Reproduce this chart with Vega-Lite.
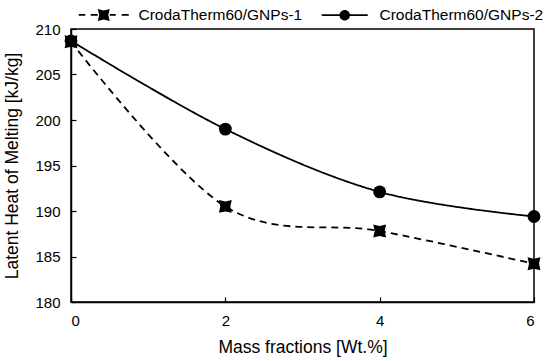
{
  "$schema": "https://vega.github.io/schema/vega-lite/v6.json",
  "width": 463,
  "height": 273,
  "autosize": {"type": "none"},
  "padding": {"left": 71, "top": 29, "right": 16, "bottom": 59},
  "background": "white",
  "config": {
    "font": "Liberation Sans",
    "view": {"stroke": "black", "strokeWidth": 1.5},
    "axis": {
      "domainColor": "black", "domainWidth": 1.5,
      "tickColor": "black", "tickWidth": 1.2, "tickSize": -5,
      "grid": false,
      "labelFont": "Liberation Sans", "labelFontSize": 15, "labelColor": "black",
      "titleFont": "Liberation Sans", "titleFontSize": 17.5, "titleFontWeight": "normal", "titleColor": "black"
    }
  },
  "data": {
    "values": [
      {"series": "CrodaTherm60/GNPs-1", "x": 0, "y": 208.6},
      {"series": "CrodaTherm60/GNPs-1", "x": 2, "y": 190.5},
      {"series": "CrodaTherm60/GNPs-1", "x": 4, "y": 187.8},
      {"series": "CrodaTherm60/GNPs-1", "x": 6, "y": 184.2},
      {"series": "CrodaTherm60/GNPs-2", "x": 0, "y": 208.7},
      {"series": "CrodaTherm60/GNPs-2", "x": 2, "y": 199.0},
      {"series": "CrodaTherm60/GNPs-2", "x": 4, "y": 192.1},
      {"series": "CrodaTherm60/GNPs-2", "x": 6, "y": 189.4}
    ]
  },
  "encoding": {
    "x": {
      "field": "x", "type": "quantitative",
      "scale": {"domain": [0, 6], "nice": false, "zero": false},
      "axis": {"values": [0, 2, 4, 6], "title": "Mass fractions [Wt.%]", "labelPadding": 16, "titlePadding": 10}
    },
    "y": {
      "field": "y", "type": "quantitative",
      "scale": {"domain": [180, 210], "nice": false, "zero": false},
      "axis": {"values": [180, 185, 190, 195, 200, 205, 210], "title": "Latent Heat of Melting [kJ/kg]", "labelPadding": 16, "titlePadding": 13}
    }
  },
  "layer": [
    {
      "mark": {"type": "line", "interpolate": "cardinal", "color": "black", "strokeWidth": 1.8},
      "encoding": {
        "strokeDash": {
          "field": "series", "type": "nominal",
          "scale": {"range": [[7, 5], [1, 0]]},
          "legend": null
        }
      }
    },
    {
      "transform": [{"filter": "datum.series === 'CrodaTherm60/GNPs-1'"}],
      "mark": {"type": "point", "filled": true, "color": "black", "opacity": 1, "size": 165,
               "shape": "M-1,-1L0,-0.78L1,-1L0.78,0L1,1L0,0.78L-1,1L-0.78,0Z"}
    },
    {
      "transform": [{"filter": "datum.series === 'CrodaTherm60/GNPs-2'"}],
      "mark": {"type": "point", "filled": true, "color": "black", "opacity": 1, "size": 165, "shape": "circle"}
    },
    {
      "mark": {"type": "point", "filled": true, "color": "black", "opacity": 0, "size": 100},
      "encoding": {
        "shape": {
          "field": "series", "type": "nominal",
          "scale": {
            "domain": ["CrodaTherm60/GNPs-1", "CrodaTherm60/GNPs-2"],
            "range": [
              "M-5,-0.17H-3.7V0.17H-5ZM-2.6,-0.17H-1.2V0.17H-2.6ZM1.2,-0.17H2.4V0.17H1.2ZM3.6,-0.17H5V0.17H3.6ZM-1.2,-1.2L0,-0.9L1.2,-1.2L0.9,0L1.2,1.2L0,0.9L-1.2,1.2L-0.9,0Z",
              "M-4.6,-0.17H4.6V0.17H-4.6ZM-1.05,0A1.05,1.05 0 1,1 1.05,0A1.05,1.05 0 1,1 -1.05,0Z"
            ]
          },
          "legend": {
            "title": null,
            "orient": "none",
            "legendX": 25,
            "legendY": -22,
            "direction": "horizontal",
            "columns": 2,
            "columnPadding": 15,
            "symbolSize": 100,
            "symbolOpacity": 1,
            "symbolFillColor": "black",
            "labelOffset": 27,
            "labelLimit": 400,
            "labelFontSize": 15.5,
            "labelFont": "Liberation Sans",
            "labelColor": "black"
          }
        }
      }
    }
  ]
}
